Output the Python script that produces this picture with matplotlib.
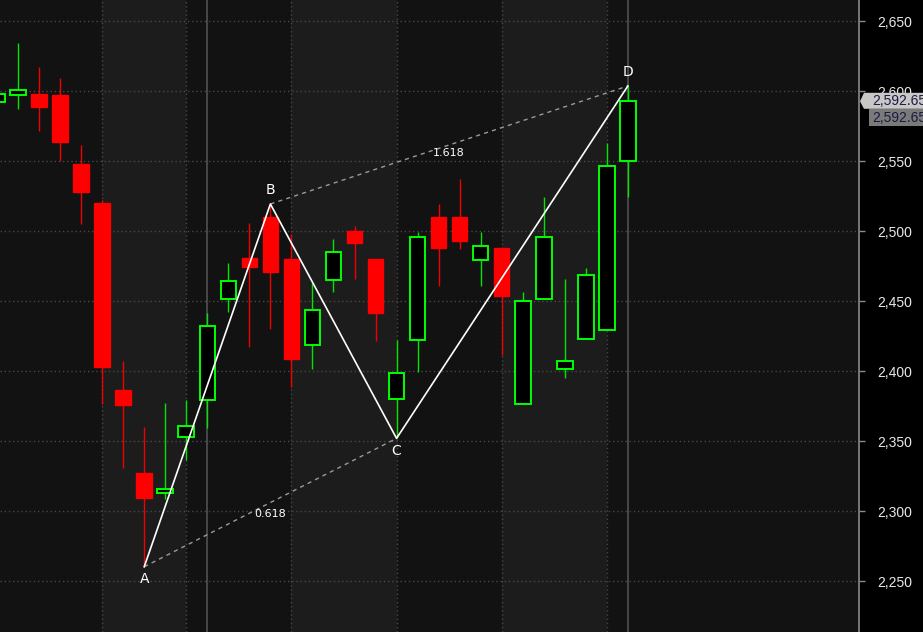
import matplotlib
matplotlib.use("Agg")
import matplotlib.pyplot as plt
from matplotlib.patches import Polygon, Rectangle
from matplotlib.transforms import IdentityTransform
import numpy as np

# ---- data ----
opens  = [2592.4, 2597.4, 2597.9, 2597.1, 2547.9, 2520.0, 2386.1, 2327.1, 2313.1, 2353.1,
          2379.0, 2451.2, 2480.7, 2510.0, 2480.0, 2418.3, 2464.8, 2500.0, 2480.0, 2379.8,
          2421.9, 2509.8, 2509.8, 2479.1, 2487.9, 2376.7, 2451.7, 2401.7, 2423.0, 2429.5,
          2549.8]
highs  = [2600.0, 2634.0, 2617.1, 2609.3, 2561.4, 2522.0, 2407.1, 2360.0, 2377.1, 2379.3,
          2441.2, 2477.1, 2505.7, 2519.3, 2497.9, 2462.9, 2494.1, 2503.6, 2480.0, 2421.9,
          2499.3, 2519.3, 2537.1, 2499.3, 2487.9, 2456.2, 2524.1, 2465.5, 2473.6, 2562.9,
          2603.6]
lows   = [2590.0, 2587.4, 2571.4, 2549.8, 2505.2, 2376.6, 2330.9, 2260.2, 2308.8, 2336.7,
          2359.5, 2442.4, 2417.4, 2430.2, 2388.8, 2401.7, 2456.7, 2465.9, 2421.4, 2351.9,
          2399.5, 2461.0, 2487.4, 2461.0, 2411.4, 2376.7, 2451.7, 2395.2, 2423.0, 2429.5,
          2524.5]
closes = [2597.9, 2600.5, 2588.6, 2563.6, 2527.9, 2403.1, 2376.0, 2309.5, 2315.5, 2360.5,
          2432.1, 2464.3, 2474.3, 2470.9, 2408.8, 2443.4, 2484.8, 2491.7, 2441.7, 2398.3,
          2495.5, 2488.1, 2493.1, 2489.0, 2453.8, 2449.8, 2495.5, 2406.9, 2468.3, 2546.2,
          2592.65]

pattern_labels = ["A", "B", "C", "D"]
pattern_index = [7, 13, 19, 30]
pattern_kind = ["low", "high", "low", "high"]
ratio_labels = ["0.618", "1.618"]
y_ticks = [2250, 2300, 2350, 2400, 2450, 2500, 2550, 2600, 2650]
week_lines = [5, 9, 14, 19, 24, 29]
month_lines = [10, 30]
light_bands = [(5, 9), (14, 19), (24, 29)]
last_price_label = "2,592.65"

# ---- figure ----
W, H = 923, 632
fig = plt.figure(figsize=(W / 100, H / 100), dpi=100, facecolor="black")
ax = fig.add_axes([0, 0, 859 / W, 1])
ax.set_facecolor("#121212")

n = len(opens)
x = np.arange(n)
ax.set_xlim(0.1427, 40.99)
ax.set_ylim(2213.6, 2665.0)

for a, b in light_bands:
    ax.axvspan(a, b, color="#1c1c1c", lw=0, zorder=0)

for yv in y_ticks:
    ax.axhline(yv, color="#474747", lw=1.0, ls=(0, (1, 2)), zorder=1)
for xv in week_lines:
    ax.axvline(xv, color="#474747", lw=1.0, ls=(0, (1, 2)), zorder=1)
for xv in month_lines:
    ax.axvline(xv, color="#575757", lw=1.1, zorder=1)

# candles
bw = 0.74
for i in range(n):
    o, h, l, c = opens[i], highs[i], lows[i], closes[i]
    up = c >= o
    col = "#00ff00" if up else "#ff0000"
    wcol = "#00e400" if up else "#f00000"
    ax.vlines(i, l, h, color=wcol, lw=1.0, zorder=2)
    lo, hi = min(o, c), max(o, c)
    if up:
        ax.add_patch(Rectangle((i - bw / 2, lo), bw, hi - lo, facecolor="black",
                               edgecolor=col, lw=1.4, zorder=3))
    else:
        ax.add_patch(Rectangle((i - bw / 2, lo), bw, hi - lo, facecolor=col,
                               edgecolor=col, lw=1.0, zorder=3))

# harmonic pattern
px = [pattern_index[k] for k in range(4)]
py = [lows[pattern_index[k]] if pattern_kind[k] == "low" else highs[pattern_index[k]]
      for k in range(4)]
ax.plot(px, py, color="white", lw=1.2, zorder=5)
ax.plot([px[0], px[2]], [py[0], py[2]], color="#9a9a9a", lw=1.0, ls=(0, (3, 3)), zorder=4)
ax.plot([px[1], px[3]], [py[1], py[3]], color="#9a9a9a", lw=1.0, ls=(0, (3, 3)), zorder=4)

label_offsets = [-8.5, 10, -9, 10]
for k, lab in enumerate(pattern_labels):
    ax.annotate(lab, (px[k], py[k]), xytext=(0, label_offsets[k]), textcoords="offset points",
                ha="center", va="center", color="white", fontsize=10,
                family="DejaVu Sans", zorder=6)

ax.annotate(ratio_labels[0], ((px[0] + px[2]) / 2, (py[0] + py[2]) / 2), xytext=(0, -8),
            textcoords="offset points", ha="center", va="center", color="white",
            fontsize=8, family="DejaVu Sans", zorder=6)
ax.annotate(ratio_labels[1], ((px[1] + px[3]) / 2, (py[1] + py[3]) / 2), xytext=(0, -6),
            textcoords="offset points", ha="center", va="center", color="white",
            fontsize=8, family="DejaVu Sans", zorder=6)

# axes styling
for s in ["left", "top", "bottom"]:
    ax.spines[s].set_visible(False)
ax.spines["right"].set_color("#8a8a8a")
ax.spines["right"].set_linewidth(1.2)
ax.set_xticks([])
ax.yaxis.tick_right()
ax.set_yticks(y_ticks)
ax.set_yticklabels([f"{v:,}" for v in y_ticks])
ax.tick_params(axis="y", colors="#8a8a8a", length=4, width=1, pad=9,
               labelcolor="#e8e8e8", labelsize=10)
for t in ax.get_yticklabels():
    t.set_family("Liberation Sans")

# last price tags
fig.canvas.draw()
_, ypx = ax.transData.transform((0, closes[-1]))
tag1 = Polygon([(860, ypx), (864, ypx + 8.5), (W + 2, ypx + 8.5), (W + 2, ypx - 7.5),
                (864, ypx - 7.5)], closed=True, facecolor="#c8c8c8", edgecolor="none",
               transform=IdentityTransform(), zorder=10)
fig.add_artist(tag1)
tag2 = Rectangle((869, ypx - 25), W - 869 + 2, 17, facecolor="#7a7a7a", edgecolor="none",
                 transform=IdentityTransform(), zorder=10)
fig.add_artist(tag2)
fig.text(872 / W, (ypx + 0.5) / H, last_price_label, color="#1a1a40", fontsize=10,
         family="Liberation Sans", va="center", ha="left", zorder=11)
fig.text(872 / W, (ypx - 16.5) / H, last_price_label, color="#1a1a40", fontsize=10,
         family="Liberation Sans", va="center", ha="left", zorder=11)

fig.savefig("out.png", dpi=100, facecolor="black")
